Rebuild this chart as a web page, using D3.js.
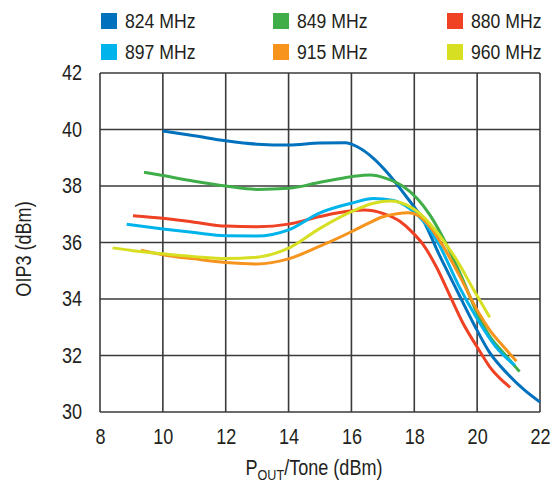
<!DOCTYPE html>
<html>
<head>
<meta charset="utf-8">
<script src="https://cdn.jsdelivr.net/npm/d3@7"></script>
<style>
  html, body { margin: 0; padding: 0; background: #fff; }
  svg text { font-family: "Liberation Sans", Arial, sans-serif; fill: #231f20; }
</style>
</head>
<body>
<svg id="chart" width="555" height="485"></svg>
<script>
// Output power per tone (dBm), x values for each frequency trace
const x824 = [10, 11, 12, 13, 14, 15, 15.8, 16.2, 16.7, 17.2, 17.75, 18.3, 18.8, 19.35, 19.9, 20.4, 20.95, 21.5, 22];
const y824 = [39.95, 39.78, 39.6, 39.48, 39.45, 39.52, 39.53, 39.38, 38.98, 38.4, 37.62, 36.75, 35.55, 34.32, 33.1, 32.1, 31.37, 30.78, 30.35];

const x849 = [9.4, 10, 11, 12, 13, 14, 15, 16, 16.6, 17.1, 17.65, 18.1, 18.5, 18.9, 19.5, 20, 20.4, 20.85, 21.35];
const y849 = [38.49, 38.37, 38.17, 38.0, 37.88, 37.92, 38.13, 38.33, 38.39, 38.27, 37.98, 37.55, 36.97, 36.2, 34.8, 33.5, 32.68, 32.08, 31.43];

const x880 = [9.05, 10, 11, 12, 13, 14, 15, 16, 16.4, 17, 17.55, 17.95, 18.3, 18.7, 19.15, 19.55, 20, 20.4, 21.05];
const y880 = [36.95, 36.86, 36.72, 36.58, 36.56, 36.65, 36.92, 37.12, 37.15, 37.03, 36.74, 36.35, 35.9, 35.14, 34.08, 33.14, 32.3, 31.6, 30.87];

const x897 = [8.85, 10, 11, 12, 13, 14, 15, 16, 16.7, 17.3, 17.85, 18.3, 18.8, 19.4, 20, 20.6, 21.2];
const y897 = [36.65, 36.48, 36.35, 36.24, 36.23, 36.45, 37.05, 37.39, 37.56, 37.5, 37.2, 36.74, 35.9, 34.5, 33.3, 32.3, 31.65];

const x915 = [9.3, 10, 11, 12, 13, 14, 15, 16, 16.5, 17, 17.5, 17.8, 18.1, 18.5, 18.9, 19.45, 20, 20.4, 20.85, 21.25];
const y915 = [35.73, 35.57, 35.42, 35.29, 35.24, 35.42, 35.87, 36.38, 36.66, 36.91, 37.03, 37.05, 36.97, 36.56, 35.9, 34.8, 33.6, 32.9, 32.3, 31.8];

const x960 = [8.4, 9, 10, 11, 12, 13, 14, 15, 16, 16.7, 17.25, 17.75, 18.3, 18.8, 19.35, 19.9, 20.4];
const y960 = [35.81, 35.72, 35.6, 35.5, 35.43, 35.48, 35.8, 36.5, 37.09, 37.39, 37.47, 37.33, 36.9, 36.25, 35.38, 34.3, 33.35];

const seriesNames = ["824 MHz", "849 MHz", "880 MHz", "897 MHz", "915 MHz", "960 MHz"];
const seriesColors = ["#0071bc", "#3fae49", "#ef4123", "#00b3eb", "#f7941d", "#d7df23"];
const seriesX = [x824, x849, x880, x897, x915, x960];
const seriesY = [y824, y849, y880, y897, y915, y960];

const xTicks = [8, 10, 12, 14, 16, 18, 20, 22];
const yTicks = [30, 32, 34, 36, 38, 40, 42];

const svg = d3.select("#chart");
const plotLeft = 100, plotRight = 540, plotTop = 73, plotBottom = 412;
const fontSize = 21.5;
const squeeze = 0.84; // horizontal condensing of the sans face

const x = d3.scaleLinear().domain([8, 22]).range([plotLeft, plotRight]);
const y = d3.scaleLinear().domain([30, 42]).range([plotBottom, plotTop]);

// Draw a condensed text label anchored at (px, py)
function label(parent, px, py, anchor, str, size) {
  return parent.append("text")
    .attr("transform", `translate(${px},${py}) scale(${squeeze},1)`)
    .attr("text-anchor", anchor)
    .attr("font-size", size || fontSize)
    .text(str);
}

// Grid
const grid = svg.append("g").attr("stroke", "#3a3a3a").attr("stroke-width", 1.6);
grid.selectAll("line.v").data(xTicks).join("line").attr("class", "v")
  .attr("x1", d => x(d)).attr("x2", d => x(d))
  .attr("y1", plotTop).attr("y2", plotBottom);
grid.selectAll("line.h").data(yTicks).join("line").attr("class", "h")
  .attr("x1", plotLeft).attr("x2", plotRight)
  .attr("y1", d => y(d)).attr("y2", d => y(d));

// Axes (labels only)
const xAxis = svg.append("g").attr("transform", `translate(0,${plotBottom})`)
  .call(d3.axisBottom(x).tickValues(xTicks).tickSize(0).tickPadding(17).tickFormat(d3.format("d")));
const yAxis = svg.append("g").attr("transform", `translate(${plotLeft},0)`)
  .call(d3.axisLeft(y).tickValues(yTicks).tickSize(0).tickPadding(18).tickFormat(d3.format("d")));
[xAxis, yAxis].forEach(a => {
  a.attr("font-family", null).attr("font-size", null);
  a.select(".domain").remove();
  a.selectAll("text")
    .attr("font-size", fontSize)
    .attr("fill", "#231f20")
    .attr("x", function () { return (+d3.select(this).attr("x") || 0) / squeeze; })
    .attr("transform", `scale(${squeeze},1)`);
});

// Curves
const line = d3.line().x(d => x(d[0])).y(d => y(d[1])).curve(d3.curveMonotoneX);
const traces = svg.append("g");
seriesNames.forEach((name, i) => {
  const pts = seriesX[i].map((v, j) => [v, seriesY[i][j]]);
  traces.append("path")
    .datum(pts)
    .attr("fill", "none")
    .attr("stroke", seriesColors[i])
    .attr("stroke-width", 3)
    .attr("d", line);
});

// Legend
const legendCols = [101, 273, 447];
const legendRows = [13, 44];
const legend = svg.append("g");
seriesNames.forEach((name, i) => {
  const cx = legendCols[i % 3], cy = legendRows[Math.floor(i / 3)];
  legend.append("rect").attr("x", cx).attr("y", cy).attr("width", 16).attr("height", 16)
    .attr("fill", seriesColors[i]);
  label(legend, cx + 24, cy + 14.5, "start", name, 21);
});

// Axis titles
const xt = label(svg, (plotLeft + plotRight) / 2 - 6, 475, "middle", null);
xt.append("tspan").text("P");
xt.append("tspan").attr("font-size", 15).attr("dy", 5).text("OUT");
xt.append("tspan").attr("dy", -5).text("/Tone (dBm)");

svg.append("text")
  .attr("transform", `translate(31,249) rotate(-90) scale(${squeeze},1)`)
  .attr("text-anchor", "middle").attr("font-size", fontSize)
  .text("OIP3 (dBm)");
</script>
</body>
</html>
